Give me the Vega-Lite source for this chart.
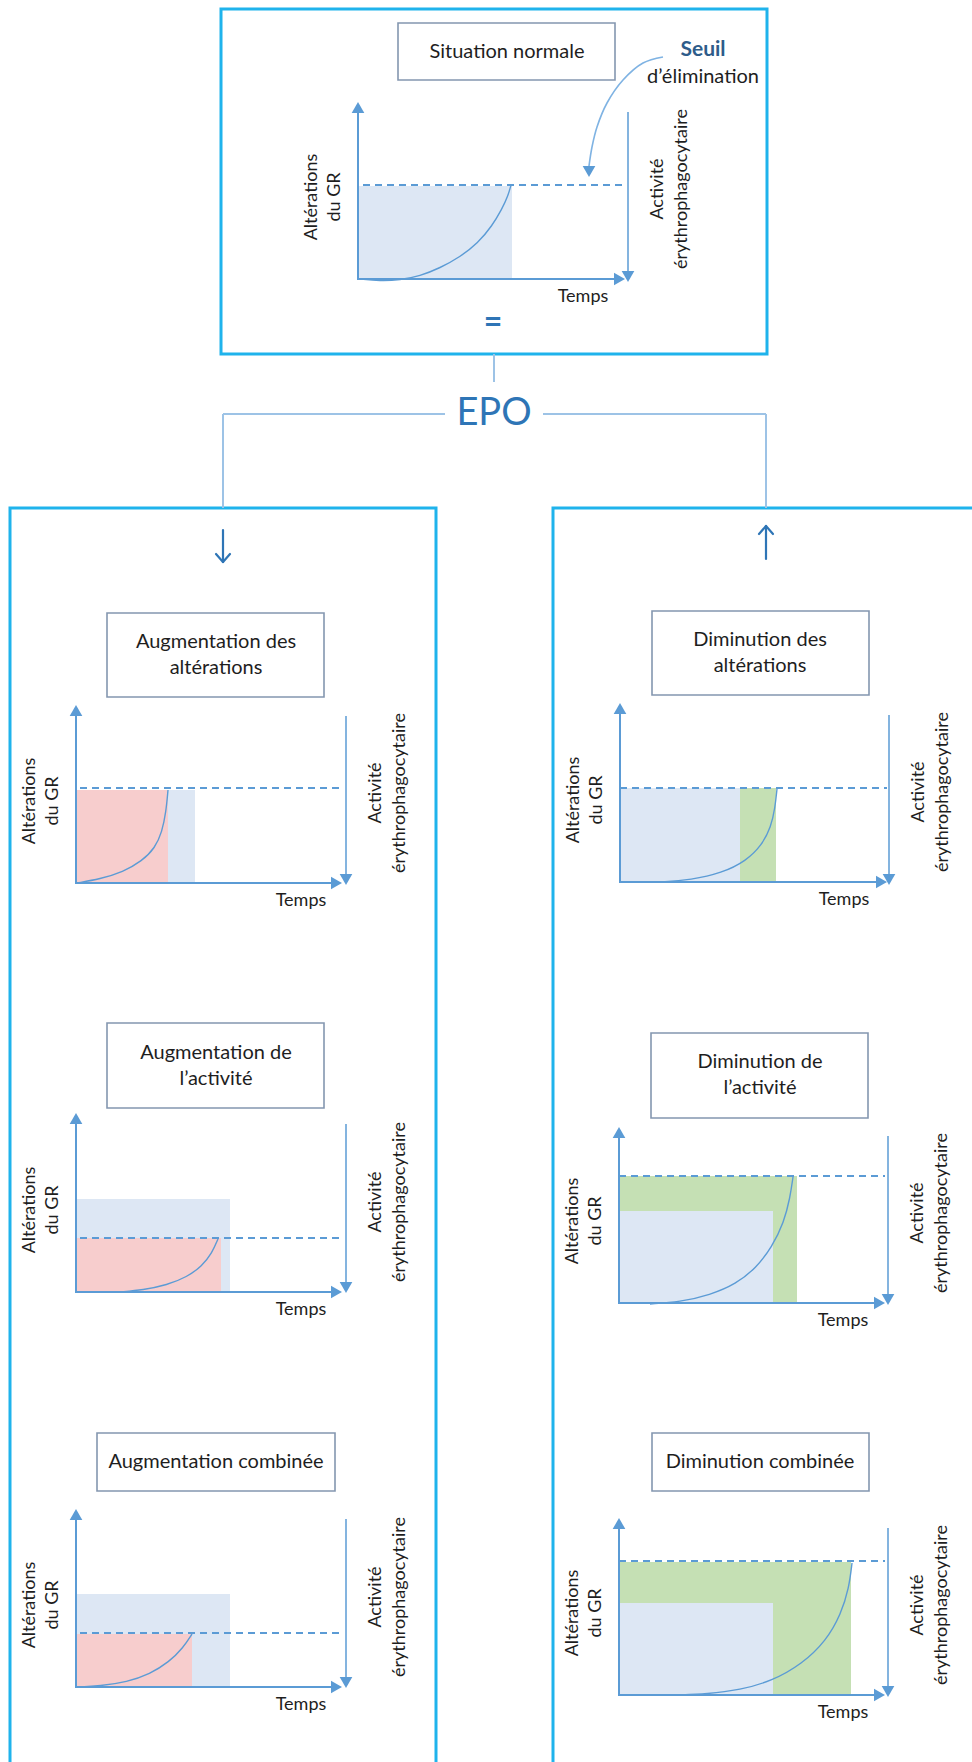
{
 "$schema": "https://vega.github.io/schema/vega-lite/v6.json",
 "width": 972, "height": 1762, "autosize": {"type": "none"}, "padding": 0,
 "background": "white",
 "config": {"view": {"stroke": null}},
 "datasets": {
  "frames": [{"x":221,"y":9,"x2":767,"y2":354},{"x":10,"y":508,"x2":436,"y2":1795},{"x":553,"y":508,"x2":1000,"y2":1795}],
  "connectors": [{"x":494,"y":354,"x2":494,"y2":382},{"x":223,"y":414,"x2":445,"y2":414},{"x":543,"y":414,"x2":766,"y2":414},{"x":223,"y":414,"x2":223,"y2":508},{"x":766,"y":414,"x2":766,"y2":508}],
  "epoArrows": [{"x":223,"y":530,"x2":223,"y2":562},{"x":216,"y":554,"x2":223,"y2":562},{"x":230,"y":554,"x2":223,"y2":562},{"x":766,"y":526,"x2":766,"y2":559},{"x":759,"y":534,"x2":766,"y2":526},{"x":773,"y":534,"x2":766,"y2":526}],
  "fills": [
   {"kind":"base","x":358,"x2":512,"y":186,"y2":279},
   {"kind":"base","x":76,"x2":195,"y":790,"y2":883},{"kind":"aug","x":76,"x2":168,"y":790,"y2":883},
   {"kind":"base","x":620,"x2":740,"y":788,"y2":882},{"kind":"dim","x":740,"x2":776,"y":788,"y2":882},
   {"kind":"base","x":76,"x2":230,"y":1199,"y2":1292},{"kind":"aug","x":76,"x2":221,"y":1238,"y2":1292},
   {"kind":"dim","x":619,"x2":797,"y":1176,"y2":1303},{"kind":"base","x":619,"x2":773,"y":1211,"y2":1303},
   {"kind":"base","x":76,"x2":230,"y":1594,"y2":1687},{"kind":"aug","x":76,"x2":192,"y":1634,"y2":1687},
   {"kind":"dim","x":619,"x2":851,"y":1562,"y2":1695},{"kind":"base","x":619,"x2":773,"y":1603,"y2":1695}
  ],
  "curves": [
   {"p":"T","i":0,"x":360,"y":279},{"p":"T","i":1,"x":380,"y":281},{"p":"T","i":2,"x":400,"y":280},{"p":"T","i":3,"x":420,"y":276},{"p":"T","i":4,"x":440,"y":268},{"p":"T","i":5,"x":460,"y":257},{"p":"T","i":6,"x":478,"y":243},{"p":"T","i":7,"x":492,"y":226},{"p":"T","i":8,"x":502,"y":209},{"p":"T","i":9,"x":508,"y":196},{"p":"T","i":10,"x":511,"y":185},
   {"p":"L1","i":0,"x":77,"y":883},{"p":"L1","i":1,"x":100,"y":879},{"p":"L1","i":2,"x":123,"y":872},{"p":"L1","i":3,"x":142,"y":861},{"p":"L1","i":4,"x":155,"y":848},{"p":"L1","i":5,"x":162,"y":832},{"p":"L1","i":6,"x":166,"y":812},{"p":"L1","i":7,"x":168,"y":790},
   {"p":"R1","i":0,"x":640,"y":882},{"p":"R1","i":1,"x":665,"y":882},{"p":"R1","i":2,"x":690,"y":880},{"p":"R1","i":3,"x":722,"y":873},{"p":"R1","i":4,"x":746,"y":861},{"p":"R1","i":5,"x":762,"y":845},{"p":"R1","i":6,"x":771,"y":827},{"p":"R1","i":7,"x":775,"y":808},{"p":"R1","i":8,"x":777,"y":789},
   {"p":"L2","i":0,"x":120,"y":1292},{"p":"L2","i":1,"x":143,"y":1290},{"p":"L2","i":2,"x":167,"y":1285},{"p":"L2","i":3,"x":187,"y":1277},{"p":"L2","i":4,"x":202,"y":1266},{"p":"L2","i":5,"x":212,"y":1253},{"p":"L2","i":6,"x":218,"y":1239},
   {"p":"R2","i":0,"x":650,"y":1304},{"p":"R2","i":1,"x":680,"y":1302},{"p":"R2","i":2,"x":710,"y":1295},{"p":"R2","i":3,"x":736,"y":1284},{"p":"R2","i":4,"x":756,"y":1268},{"p":"R2","i":5,"x":772,"y":1247},{"p":"R2","i":6,"x":784,"y":1222},{"p":"R2","i":7,"x":790,"y":1198},{"p":"R2","i":8,"x":793,"y":1177},
   {"p":"L3","i":0,"x":77,"y":1687},{"p":"L3","i":1,"x":100,"y":1686},{"p":"L3","i":2,"x":127,"y":1682},{"p":"L3","i":3,"x":150,"y":1674},{"p":"L3","i":4,"x":169,"y":1662},{"p":"L3","i":5,"x":183,"y":1648},{"p":"L3","i":6,"x":192,"y":1634},
   {"p":"R3","i":0,"x":677,"y":1695},{"p":"R3","i":1,"x":707,"y":1694},{"p":"R3","i":2,"x":740,"y":1690},{"p":"R3","i":3,"x":772,"y":1681},{"p":"R3","i":4,"x":802,"y":1664},{"p":"R3","i":5,"x":826,"y":1641},{"p":"R3","i":6,"x":841,"y":1614},{"p":"R3","i":7,"x":849,"y":1588},{"p":"R3","i":8,"x":852,"y":1563}
  ],
  "dashed": [{"x":363,"y":185,"x2":623,"y2":185},{"x":80,"y":788,"x2":342,"y2":788},{"x":620,"y":788,"x2":887,"y2":788},{"x":80,"y":1238,"x2":342,"y2":1238},{"x":619,"y":1176,"x2":885,"y2":1176},{"x":80,"y":1633,"x2":342,"y2":1633},{"x":619,"y":1561,"x2":885,"y2":1561}],
  "axes": [
   {"x":358,"y":280,"x2":358,"y2":112},{"x":357,"y":279,"x2":615,"y2":279},
   {"x":76,"y":884,"x2":76,"y2":715},{"x":75,"y":883,"x2":332,"y2":883},
   {"x":620,"y":883,"x2":620,"y2":713},{"x":619,"y":882,"x2":877,"y2":882},
   {"x":76,"y":1293,"x2":76,"y2":1123},{"x":75,"y":1292,"x2":332,"y2":1292},
   {"x":619,"y":1304,"x2":619,"y2":1137},{"x":618,"y":1303,"x2":875,"y2":1303},
   {"x":76,"y":1688,"x2":76,"y2":1519},{"x":75,"y":1687,"x2":332,"y2":1687},
   {"x":619,"y":1696,"x2":619,"y2":1528},{"x":618,"y":1695,"x2":875,"y2":1695}
  ],
  "activity": [{"x":628,"y":112,"x2":628,"y2":273},{"x":346,"y":716,"x2":346,"y2":876},{"x":889,"y":715,"x2":889,"y2":876},{"x":346,"y":1124,"x2":346,"y2":1284},{"x":888,"y":1136,"x2":888,"y2":1296},{"x":346,"y":1519,"x2":346,"y2":1679},{"x":888,"y":1528,"x2":888,"y2":1688}],
  "heads": [
   {"d":"up","x":358,"y":107.5},{"d":"right","x":619.5,"y":279},{"d":"down","x":628,"y":276.5},
   {"d":"up","x":76,"y":710.5},{"d":"right","x":336.5,"y":883},{"d":"down","x":346,"y":879.5},
   {"d":"up","x":620,"y":708.5},{"d":"right","x":881.5,"y":882},{"d":"down","x":889,"y":879.5},
   {"d":"up","x":76,"y":1118.5},{"d":"right","x":336.5,"y":1292},{"d":"down","x":346,"y":1287.5},
   {"d":"up","x":619,"y":1132.5},{"d":"right","x":879.5,"y":1303},{"d":"down","x":888,"y":1299.5},
   {"d":"up","x":76,"y":1514.5},{"d":"right","x":336.5,"y":1687},{"d":"down","x":346,"y":1682.5},
   {"d":"up","x":619,"y":1523.5},{"d":"right","x":879.5,"y":1695},{"d":"down","x":888,"y":1691.5},
   {"d":"down","x":589,"y":171.5}
  ],
  "seuilCurve": [{"i":0,"x":663,"y":57},{"i":1,"x":643,"y":63},{"i":2,"x":623,"y":80},{"i":3,"x":607,"y":103},{"i":4,"x":597,"y":127},{"i":5,"x":592,"y":147},{"i":6,"x":589,"y":166}],
  "titleBoxes": [{"x":398,"x2":615,"y":23,"y2":80},{"x":107,"x2":324,"y":613,"y2":697},{"x":652,"x2":869,"y":611,"y2":695},{"x":107,"x2":324,"y":1023,"y2":1108},{"x":651,"x2":868,"y":1033,"y2":1118},{"x":97,"x2":335,"y":1433,"y2":1491},{"x":652,"x2":869,"y":1433,"y2":1491}],
  "titles": [
   {"x":507,"y":52,"t":"Situation normale"},
   {"x":216,"y":642,"t":"Augmentation des"},{"x":216,"y":668,"t":"altérations"},
   {"x":760,"y":640,"t":"Diminution des"},{"x":760,"y":666,"t":"altérations"},
   {"x":216,"y":1053,"t":"Augmentation de"},{"x":216,"y":1079,"t":"l’activité"},
   {"x":760,"y":1062,"t":"Diminution de"},{"x":760,"y":1088,"t":"l’activité"},
   {"x":216,"y":1462,"t":"Augmentation combinée"},
   {"x":760,"y":1462,"t":"Diminution combinée"}
  ],
  "rotLabels": [
   {"x":312,"y":197,"t":"Altérations"},{"x":335,"y":197,"t":"du GR"},{"x":658,"y":189,"t":"Activité"},{"x":682,"y":189,"t":"érythrophagocytaire"},
   {"x":30,"y":801,"t":"Altérations"},{"x":53,"y":801,"t":"du GR"},{"x":376,"y":793,"t":"Activité"},{"x":400,"y":793,"t":"érythrophagocytaire"},
   {"x":574,"y":800,"t":"Altérations"},{"x":597,"y":800,"t":"du GR"},{"x":919,"y":792,"t":"Activité"},{"x":943,"y":792,"t":"érythrophagocytaire"},
   {"x":30,"y":1210,"t":"Altérations"},{"x":53,"y":1210,"t":"du GR"},{"x":376,"y":1202,"t":"Activité"},{"x":400,"y":1202,"t":"érythrophagocytaire"},
   {"x":573,"y":1221,"t":"Altérations"},{"x":596,"y":1221,"t":"du GR"},{"x":918,"y":1213,"t":"Activité"},{"x":942,"y":1213,"t":"érythrophagocytaire"},
   {"x":30,"y":1605,"t":"Altérations"},{"x":53,"y":1605,"t":"du GR"},{"x":376,"y":1597,"t":"Activité"},{"x":400,"y":1597,"t":"érythrophagocytaire"},
   {"x":573,"y":1613,"t":"Altérations"},{"x":596,"y":1613,"t":"du GR"},{"x":918,"y":1605,"t":"Activité"},{"x":942,"y":1605,"t":"érythrophagocytaire"}
  ],
  "temps": [{"x":583,"y":297,"t":"Temps"},{"x":301,"y":901,"t":"Temps"},{"x":844,"y":900,"t":"Temps"},{"x":301,"y":1310,"t":"Temps"},{"x":843,"y":1321,"t":"Temps"},{"x":301,"y":1705,"t":"Temps"},{"x":843,"y":1713,"t":"Temps"}],
  "epo": [{"x":494,"y":414,"t":"EPO"}],
  "equal": [{"x":493,"y":323,"t":"="}],
  "seuil": [{"x":703,"y":50,"t":"Seuil"}],
  "elim": [{"x":703,"y":77,"t":"d’élimination"}]
 },
 "encoding": {
  "x": {"field":"x","type":"quantitative","scale":{"domain":[0,972],"nice":false,"zero":false},"axis":null},
  "y": {"field":"y","type":"quantitative","scale":{"domain":[0,1762],"nice":false,"zero":false,"reverse":true},"axis":null}
 },
 "layer": [
  {"data":{"name":"frames"},"mark":{"type":"rect","filled":false,"stroke":"#1fb3ec","strokeWidth":3,"clip":true},"encoding":{"x2":{"field":"x2"},"y2":{"field":"y2"}}},
  {"data":{"name":"connectors"},"mark":{"type":"rule","color":"#9dc3e6","strokeWidth":2},"encoding":{"x2":{"field":"x2"},"y2":{"field":"y2"}}},
  {"data":{"name":"epoArrows"},"mark":{"type":"rule","color":"#2e75b6","strokeWidth":2.2,"strokeCap":"round"},"encoding":{"x2":{"field":"x2"},"y2":{"field":"y2"}}},
  {"data":{"name":"fills"},"mark":{"type":"rect","opacity":1},"encoding":{"x2":{"field":"x2"},"y2":{"field":"y2"},"color":{"field":"kind","type":"nominal","scale":{"domain":["base","aug","dim"],"range":["#dde7f4","#f7cdcd","#c5e0b4"]},"legend":null}}},
  {"data":{"name":"curves"},"mark":{"type":"line","color":"#5b9bd5","strokeWidth":1.4,"interpolate":"basis"},"encoding":{"detail":{"field":"p"},"order":{"field":"i","type":"quantitative"}}},
  {"data":{"name":"dashed"},"mark":{"type":"rule","color":"#5b9bd5","strokeWidth":1.8,"strokeDash":[7,5]},"encoding":{"x2":{"field":"x2"},"y2":{"field":"y2"}}},
  {"data":{"name":"axes"},"mark":{"type":"rule","color":"#5b9bd5","strokeWidth":2},"encoding":{"x2":{"field":"x2"},"y2":{"field":"y2"}}},
  {"data":{"name":"activity"},"mark":{"type":"rule","color":"#5b9bd5","strokeWidth":1.5},"encoding":{"x2":{"field":"x2"},"y2":{"field":"y2"}}},
  {"data":{"name":"seuilCurve"},"mark":{"type":"line","color":"#7fb3e3","strokeWidth":1.6,"interpolate":"catmull-rom"},"encoding":{"order":{"field":"i","type":"quantitative"}}},
  {"data":{"name":"heads"},"mark":{"type":"point","filled":true,"opacity":1,"color":"#5b9bd5","size":160},"encoding":{"shape":{"field":"d","type":"nominal","scale":{"domain":["up","down","right"],"range":["triangle-up","triangle-down","triangle-right"]},"legend":null}}},
  {"data":{"name":"titleBoxes"},"mark":{"type":"rect","fill":"white","stroke":"#8497b0","strokeWidth":1.6},"encoding":{"x2":{"field":"x2"},"y2":{"field":"y2"}}},
  {"data":{"name":"titles"},"mark":{"type":"text","font":"Lato","fontSize":20,"color":"#1e1e1e","align":"center","baseline":"middle"},"encoding":{"text":{"field":"t"}}},
  {"data":{"name":"rotLabels"},"mark":{"type":"text","font":"Lato","fontSize":18,"color":"#1e1e1e","align":"center","baseline":"middle","angle":270},"encoding":{"text":{"field":"t"}}},
  {"data":{"name":"temps"},"mark":{"type":"text","font":"Lato","fontSize":18,"color":"#1e1e1e","align":"center","baseline":"middle"},"encoding":{"text":{"field":"t"}}},
  {"data":{"name":"epo"},"mark":{"type":"text","font":"Lato","fontSize":38,"color":"#2e75b6","align":"center","baseline":"middle"},"encoding":{"text":{"field":"t"}}},
  {"data":{"name":"equal"},"mark":{"type":"text","font":"Lato","fontSize":32,"fontWeight":"bold","color":"#2e75b6","align":"center","baseline":"middle"},"encoding":{"text":{"field":"t"}}},
  {"data":{"name":"seuil"},"mark":{"type":"text","font":"Lato","fontSize":21,"fontWeight":"bold","color":"#2e5c8a","align":"center","baseline":"middle"},"encoding":{"text":{"field":"t"}}},
  {"data":{"name":"elim"},"mark":{"type":"text","font":"Lato","fontSize":20,"color":"#1e1e1e","align":"center","baseline":"middle"},"encoding":{"text":{"field":"t"}}}
 ]
}
